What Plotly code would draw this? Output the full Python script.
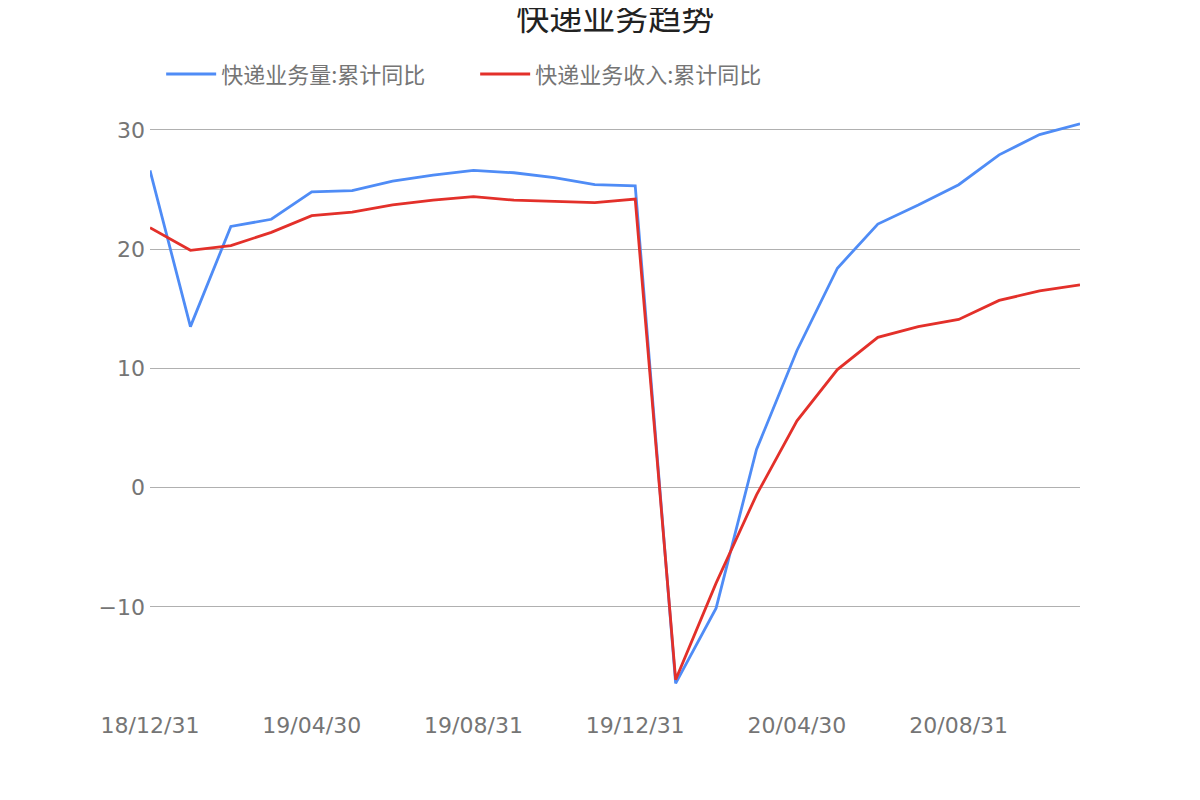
import plotly.graph_objects as go

dates = ["18/12/31", "19/01/31", "19/02/28", "19/03/31", "19/04/30", "19/05/31",
         "19/06/30", "19/07/31", "19/08/31", "19/09/30", "19/10/31", "19/11/30",
         "19/12/31", "20/01/31", "20/02/29", "20/03/31", "20/04/30", "20/05/31",
         "20/06/30", "20/07/31", "20/08/31", "20/09/30", "20/10/31", "20/11/30"]

volume_yoy = [26.6, 13.5, 21.9, 22.5, 24.8, 24.9, 25.7, 26.2, 26.6, 26.4, 26.0, 25.4,
              25.3, -16.4, -10.1, 3.2, 11.5, 18.4, 22.1, 23.7, 25.4, 27.9, 29.6, 30.5]

revenue_yoy = [21.8, 19.9, 20.3, 21.4, 22.8, 23.1, 23.7, 24.1, 24.4, 24.1, 24.0, 23.9,
               24.2, -16.1, -8.0, -0.6, 5.6, 9.9, 12.6, 13.5, 14.1, 15.7, 16.5, 17.0]

tick_labels = ["18/12/31", "19/04/30", "19/08/31", "19/12/31", "20/04/30", "20/08/31"]

series_names = ["快递业务量:累计同比", "快递业务收入:累计同比"]
title_text = "快递业务趋势"

font_family = "DejaVu Sans, Noto Sans CJK SC, sans-serif"

fig = go.Figure()
fig.add_trace(go.Scatter(x=dates, y=volume_yoy, mode="lines", name=series_names[0],
                         line=dict(color="#4f8cf6", width=2.8)))
fig.add_trace(go.Scatter(x=dates, y=revenue_yoy, mode="lines", name=series_names[1],
                         line=dict(color="#e3302a", width=2.8)))

fig.update_layout(
    width=1200, height=800,
    paper_bgcolor="white", plot_bgcolor="white",
    margin=dict(l=142, r=128, t=92, b=108),
    title=dict(text=title_text, x=0.506, xanchor="center", y=0.9875, yanchor="middle",
               font=dict(family="Noto Sans CJK SC, sans-serif", size=33, color="#222222")),
    legend=dict(orientation="h", x=0.012, xanchor="left", y=1.043, yanchor="middle",
                font=dict(family="Noto Sans CJK SC, sans-serif", size=22, color="#757575"),
                itemwidth=50, entrywidth=249, tracegroupgap=0),
    xaxis=dict(type="category", range=[0, len(dates) - 1], showgrid=False, zeroline=False,
               showline=False, tickmode="array", tickvals=tick_labels, ticktext=tick_labels,
               ticks="", ticklabelstandoff=10,
               tickfont=dict(family=font_family, size=22, color="#757575")),
    yaxis=dict(range=[-17.8, 32.5], tickvals=[-10, 0, 10, 20, 30], showgrid=True,
               gridcolor="#b0b0b0", gridwidth=1, zeroline=False, showline=False, ticks="",
               ticklabelstandoff=4,
               tickfont=dict(family=font_family, size=22, color="#757575")),
)

fig.write_html("out.html")
